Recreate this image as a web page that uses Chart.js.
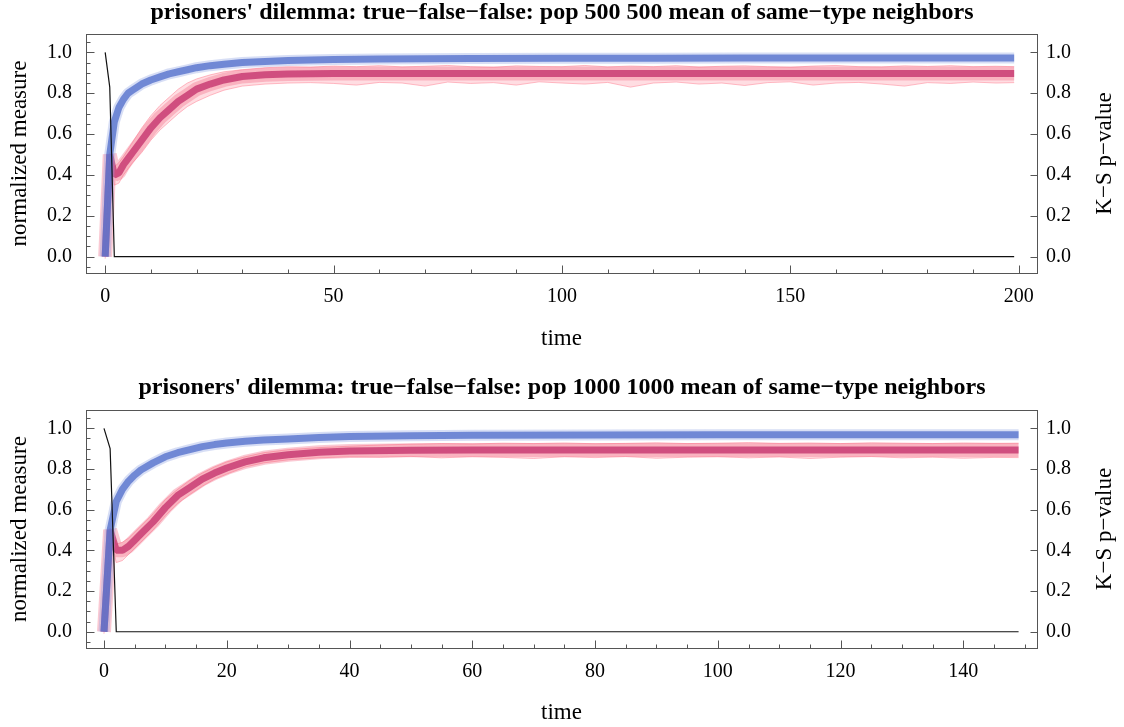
<!DOCTYPE html>
<html>
<head>
<meta charset="utf-8">
<script src="https://cdn.jsdelivr.net/npm/chart.js@4/dist/chart.umd.min.js"></script>
<style>
  body { margin: 0; background: #fff; }
  canvas { display: block; }
</style>
</head>
<body>
<canvas id="top" width="1124" height="363"></canvas>
<canvas id="bot" width="1124" height="364"></canvas>
<script>
// ---- data ----
const titleTop = "prisoners' dilemma: true\u2212false\u2212false: pop 500 500 mean of same\u2212type neighbors";
const titleBot = "prisoners' dilemma: true\u2212false\u2212false: pop 1000 1000 mean of same\u2212type neighbors";

const yTicks = [0, 0.2, 0.4, 0.6, 0.8, 1.0];
const yMinorTicks = [-0.05, 0.05, 0.1, 0.15, 0.25, 0.3, 0.35, 0.45, 0.5, 0.55, 0.65, 0.7, 0.75, 0.85, 0.9, 0.95, 1.05];

// top panel, pop 500
const xTicksTop = [0, 50, 100, 150, 200];
const xMinorTicksTop = [10, 20, 30, 40, 60, 70, 80, 90, 110, 120, 130, 140, 160, 170, 180, 190];
const timeTop = [0, 1, 2, 3, 4, 5, 6, 8, 10, 12, 14, 16, 18, 20, 23, 26, 30, 35, 40, 50, 60, 80, 100, 120, 140, 160, 180, 199];
const blueTop = [0, 0.5, 0.66, 0.73, 0.77, 0.80, 0.815, 0.845, 0.865, 0.88, 0.895, 0.905, 0.915, 0.925, 0.935, 0.942, 0.95, 0.955, 0.96, 0.965, 0.968, 0.97, 0.971, 0.971, 0.972, 0.972, 0.972, 0.972];
const redTop = [0, 0.5, 0.40, 0.41, 0.45, 0.48, 0.51, 0.57, 0.63, 0.68, 0.72, 0.76, 0.79, 0.82, 0.845, 0.865, 0.882, 0.89, 0.894, 0.897, 0.897, 0.897, 0.897, 0.897, 0.897, 0.897, 0.897, 0.897];
const runTimeTop = [0, 1, 2, 3, 4, 6, 8, 10, 12, 14, 16, 18, 20, 23, 26, 30,
  35, 40, 45, 50, 55, 60, 65, 70, 75, 80, 85, 90, 95, 100, 105, 110, 115, 120, 125, 130,
  135, 140, 145, 150, 155, 160, 165, 170, 175, 180, 185, 190, 195, 199];
const runHighTop = [0.01, 0.51, 0.44, 0.46, 0.49, 0.56, 0.63, 0.69, 0.74, 0.78, 0.82, 0.85, 0.87, 0.89, 0.905, 0.915,
  0.925, 0.93, 0.928, 0.933, 0.93, 0.935, 0.929, 0.932, 0.936, 0.93, 0.927, 0.934, 0.931, 0.93, 0.936, 0.929, 0.933, 0.93, 0.935, 0.928,
  0.932, 0.934, 0.93, 0.927, 0.933, 0.936, 0.93, 0.929, 0.934, 0.931, 0.935, 0.93, 0.932, 0.93];
const runLowTop = [-0.01, 0.48, 0.35, 0.36, 0.40, 0.46, 0.51, 0.57, 0.62, 0.66, 0.70, 0.735, 0.76, 0.79, 0.815, 0.835,
  0.845, 0.85, 0.852, 0.848, 0.84, 0.853, 0.85, 0.835, 0.855, 0.848, 0.852, 0.84, 0.856, 0.85, 0.845, 0.853, 0.83, 0.85, 0.855, 0.845,
  0.85, 0.838, 0.852, 0.856, 0.84, 0.85, 0.853, 0.845, 0.835, 0.852, 0.848, 0.855, 0.85, 0.852];
const ksTimeTop = [0, 1, 2, 199];
const ksTop = [1.0, 0.83, 0, 0];

// bottom panel, pop 1000
const xTicksBot = [0, 20, 40, 60, 80, 100, 120, 140];
const xMinorTicksBot = [5, 10, 15, 25, 30, 35, 45, 50, 55, 65, 70, 75, 85, 90, 95, 105, 110, 115, 125, 130, 135, 145, 150];
const timeBot = [0, 1, 2, 3, 4, 5, 6, 8, 10, 12, 14, 16, 18, 20, 23, 26, 30, 35, 40, 50, 60, 80, 100, 120, 149];
const blueBot = [0, 0.5, 0.64, 0.70, 0.74, 0.77, 0.795, 0.83, 0.86, 0.88, 0.895, 0.91, 0.92, 0.928, 0.936, 0.942, 0.948, 0.955, 0.96, 0.964, 0.966, 0.967, 0.968, 0.968, 0.968];
const redBot = [0, 0.5, 0.40, 0.40, 0.42, 0.45, 0.48, 0.54, 0.61, 0.67, 0.71, 0.75, 0.78, 0.805, 0.835, 0.855, 0.87, 0.882, 0.888, 0.892, 0.893, 0.893, 0.893, 0.893, 0.893];
const runTimeBot = [0, 1, 2, 3, 4, 6, 8, 10, 12, 14, 16, 18, 20, 23, 26, 30,
  35, 40, 45, 50, 55, 60, 65, 70, 75, 80, 85, 90, 95, 100, 105, 110, 115, 120, 125, 130, 135, 140, 145, 149];
const runHighBot = [0.01, 0.51, 0.43, 0.44, 0.46, 0.52, 0.58, 0.65, 0.70, 0.745, 0.78, 0.81, 0.835, 0.86, 0.88, 0.895,
  0.905, 0.912, 0.918, 0.922, 0.925, 0.923, 0.927, 0.925, 0.928, 0.924, 0.926, 0.929, 0.925, 0.927, 0.93, 0.926, 0.928, 0.925, 0.929, 0.927, 0.925, 0.928, 0.926, 0.927];
const runLowBot = [-0.01, 0.48, 0.34, 0.35, 0.38, 0.44, 0.50, 0.57, 0.63, 0.675, 0.715, 0.75, 0.775, 0.81, 0.83, 0.845,
  0.855, 0.86, 0.858, 0.862, 0.855, 0.86, 0.857, 0.852, 0.86, 0.856, 0.861, 0.853, 0.858, 0.86, 0.855, 0.859, 0.852, 0.858, 0.861, 0.855, 0.858, 0.853, 0.857, 0.856];
const ksTimeBot = [0, 1, 2, 149];
const ksBot = [1.0, 0.9, 0, 0];

// ---- drawing ----
const FONT = "'Liberation Serif', 'DejaVu Serif', serif";

function pts(xs, ys) {
  return xs.map((x, i) => ({ x: x, y: ys[i] }));
}

// box frame, inward ticks, right-hand axis title
const framePlugin = {
  id: 'frame',
  afterDraw(chart, args, opts) {
    const { ctx, chartArea: a, scales } = chart;
    ctx.save();
    ctx.strokeStyle = '#555';
    ctx.lineWidth = 1;
    ctx.strokeRect(Math.round(a.left) + 0.5, Math.round(a.top) + 0.5, Math.round(a.width), Math.round(a.height));
    const seg = (x1, y1, x2, y2) => { ctx.beginPath(); ctx.moveTo(x1, y1); ctx.lineTo(x2, y2); ctx.stroke(); };
    const L = Math.round(a.left) + 0.5, R = Math.round(a.right) + 0.5, B = Math.round(a.bottom) + 0.5;
    yTicks.forEach(v => {
      const y = Math.round(scales.y.getPixelForValue(v)) + 0.5;
      seg(L, y, L + 8, y);
      seg(R, y, R - 7, y);
    });
    yMinorTicks.forEach(v => {
      const y = Math.round(scales.y.getPixelForValue(v)) + 0.5;
      seg(L, y, L + 4, y);
    });
    opts.major.forEach(v => {
      const x = Math.round(scales.x.getPixelForValue(v)) + 0.5;
      seg(x, B, x, B - 8);
    });
    opts.minor.forEach(v => {
      const x = Math.round(scales.x.getPixelForValue(v)) + 0.5;
      seg(x, B, x, B - 4);
    });
    ctx.translate(1105, (a.top + a.bottom) / 2);
    ctx.rotate(-Math.PI / 2);
    ctx.fillStyle = '#000';
    ctx.font = "23px " + FONT;
    ctx.textAlign = 'center';
    ctx.textBaseline = 'middle';
    ctx.fillText('K\u2212S p\u2212value', 0, 0);
    ctx.restore();
  }
};

function makeChart(id, p) {
  const lineBase = { pointRadius: 0, tension: 0, fill: false, borderJoinStyle: 'bevel' };
  const datasets = [
    Object.assign({}, lineBase, { data: pts(p.ksTime, p.ks), yAxisID: 'y2', borderColor: '#111', borderWidth: 1.2, borderJoinStyle: 'miter' }),
    Object.assign({}, lineBase, { data: pts(p.time, p.blue), borderColor: 'rgba(88,115,205,0.8)', borderWidth: 7 }),
    Object.assign({}, lineBase, { data: pts(p.time, p.blue), borderColor: 'rgba(140,160,225,0.35)', borderWidth: 11 }),
    Object.assign({}, lineBase, { data: pts(p.time, p.red), borderColor: 'rgba(195,45,105,0.75)', borderWidth: 7 }),
    Object.assign({}, lineBase, { data: pts(p.time, p.red), borderColor: 'rgba(240,100,130,0.35)', borderWidth: 14 }),
    Object.assign({}, lineBase, { data: pts(p.runTime, p.runHigh), borderColor: 'rgba(255,120,140,0.5)', borderWidth: 1,
      fill: '+1', backgroundColor: 'rgba(255,150,165,0.32)' }),
    Object.assign({}, lineBase, { data: pts(p.runTime, p.runLow), borderColor: 'rgba(255,120,140,0.5)', borderWidth: 1 })
  ];
  const tickFont = { family: FONT, size: 20 };
  const axisFont = { family: FONT, size: 23 };
  return new Chart(document.getElementById(id), {
    type: 'line',
    data: { datasets: datasets },
    options: {
      responsive: false,
      animation: false,
      layout: { padding: 0 },
      plugins: {
        legend: { display: false },
        tooltip: { enabled: false },
        title: {
          display: true,
          text: p.title,
          color: '#000',
          font: { family: FONT, size: 24, weight: 'bold', lineHeight: 1.0 },
          padding: p.titlePad
        },
        frame: { major: p.xTicks, minor: p.xMinor }
      },
      scales: {
        x: {
          type: 'linear',
          min: p.xMin, max: p.xMax,
          grid: { display: false, drawTicks: false, tickLength: 0 },
          border: { display: false },
          afterBuildTicks: s => { s.ticks = p.xTicks.map(v => ({ value: v })); },
          afterFit: s => { s.height = p.xAxisH; },
          ticks: { font: tickFont, color: '#000', padding: 12, maxRotation: 0, callback: v => String(v) },
          title: { display: true, text: 'time', color: '#000', font: axisFont, padding: { top: 0, bottom: p.timePad } }
        },
        y: {
          position: 'left',
          min: -0.08, max: 1.09,
          grid: { display: false, drawTicks: false, tickLength: 0 },
          border: { display: false },
          afterBuildTicks: s => { s.ticks = yTicks.map(v => ({ value: v })); },
          afterFit: s => { s.width = 86; },
          ticks: { font: tickFont, color: '#000', padding: 14, callback: v => v.toFixed(1) },
          title: { display: true, text: 'normalized measure', color: '#000', font: axisFont, padding: { top: 6, bottom: 0 } }
        },
        y2: {
          position: 'right',
          min: -0.08, max: 1.09,
          grid: { display: false, drawTicks: false, tickLength: 0 },
          border: { display: false },
          afterBuildTicks: s => { s.ticks = yTicks.map(v => ({ value: v })); },
          afterFit: s => { s.width = 87; },
          ticks: { font: tickFont, color: '#000', padding: 9, callback: v => v.toFixed(1) }
        }
      }
    },
    plugins: [framePlugin]
  });
}

makeChart('top', {
  title: titleTop, titlePad: { top: 0.5, bottom: 9.5 },
  time: timeTop, blue: blueTop, red: redTop,
  runTime: runTimeTop, runHigh: runHighTop, runLow: runLowTop,
  ksTime: ksTimeTop, ks: ksTop,
  xTicks: xTicksTop, xMinor: xMinorTicksTop,
  xMin: -4.2, xMax: 204, xAxisH: 90, timePad: 10.2
});

makeChart('bot', {
  title: titleBot, titlePad: { top: 13, bottom: 10 },
  time: timeBot, blue: blueBot, red: redBot,
  runTime: runTimeBot, runHigh: runHighBot, runLow: runLowBot,
  ksTime: ksTimeBot, ks: ksBot,
  xTicks: xTicksBot, xMinor: xMinorTicksBot,
  xMin: -2.93, xMax: 152, xAxisH: 79, timePad: 0.2
});
</script>
</body>
</html>
